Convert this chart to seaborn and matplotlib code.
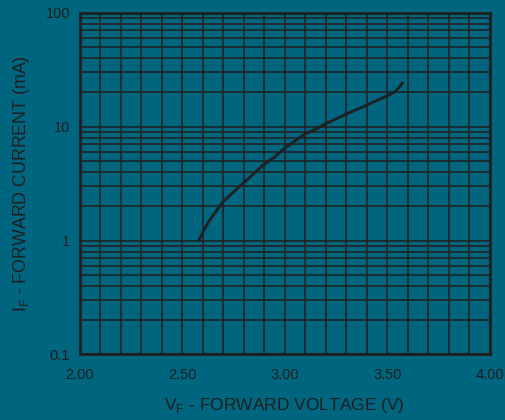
import matplotlib
matplotlib.use("Agg")
import matplotlib.pyplot as plt
import numpy as np
import pandas as pd
import seaborn as sns
from matplotlib.ticker import FixedLocator, LogLocator, NullFormatter

# forward voltage (V) vs forward current (mA)
vf = [2.58, 2.61, 2.634, 2.663, 2.699, 2.748, 2.797, 2.894, 2.948, 2.992,
      3.098, 3.151, 3.195, 3.301, 3.399, 3.496, 3.517, 3.537, 3.558, 3.574]
if_ma = [1.0, 1.28, 1.51, 1.79, 2.19, 2.65, 3.18, 4.59, 5.37, 6.31,
         8.6, 9.5, 10.5, 12.9, 15.4, 18.5, 19.3, 20.2, 22.1, 24.2]

x_ticks = [2.0, 2.5, 3.0, 3.5, 4.0]
x_labels = ["2.00", "2.50", "3.00", "3.50", "4.00"]
y_ticks = [0.1, 1, 10, 100]
y_labels = ["0.1", "1", "10", "100"]

BG = "#00657f"
INK = "#1f1f1f"

sns.set_style("white")
plt.rcParams["font.family"] = ["Liberation Sans", "DejaVu Sans"]
plt.rcParams["mathtext.fontset"] = "custom"
plt.rcParams["mathtext.rm"] = "Liberation Sans"

df = pd.DataFrame({"vf": vf, "if": if_ma})

fig = plt.figure(figsize=(5.05, 4.2), dpi=100, facecolor=BG)
ax = fig.add_axes([0.158, 0.156, 0.812, 0.814])
ax.set_facecolor(BG)

ax.set_yscale("log")
ax.set_xlim(2.0, 4.0)
ax.set_ylim(0.1, 100)

# grid: every 0.1 V and every 1..9 per decade
ax.xaxis.set_minor_locator(FixedLocator(np.arange(2.0, 4.01, 0.1)))
ax.yaxis.set_minor_locator(LogLocator(base=10, subs=np.arange(1, 10)))
ax.yaxis.set_minor_formatter(NullFormatter())
ax.grid(True, which="both", color=INK, linewidth=1.1)
ax.set_axisbelow(True)

sns.lineplot(data=df, x="vf", y="if", ax=ax, color=INK, linewidth=2.0)

ax.set_xticks(x_ticks)
ax.set_xticklabels(x_labels)
ax.set_yticks(y_ticks)
ax.set_yticklabels(y_labels)
ax.tick_params(which="both", length=0, colors=INK, labelsize=10.5)
ax.tick_params(axis="x", pad=10)
ax.tick_params(axis="y", pad=7)

for s in ax.spines.values():
    s.set_color(INK)
    s.set_linewidth(2.0)

ax.set_xlabel(r"V$_\mathregular{F}$ - FORWARD VOLTAGE (V)", color=INK, fontsize=12.5, labelpad=10)
ax.set_ylabel(r"I$_\mathregular{F}$ - FORWARD CURRENT (mA)", color=INK, fontsize=12.8, labelpad=10)

fig.savefig("out.png", dpi=100, facecolor=BG)
